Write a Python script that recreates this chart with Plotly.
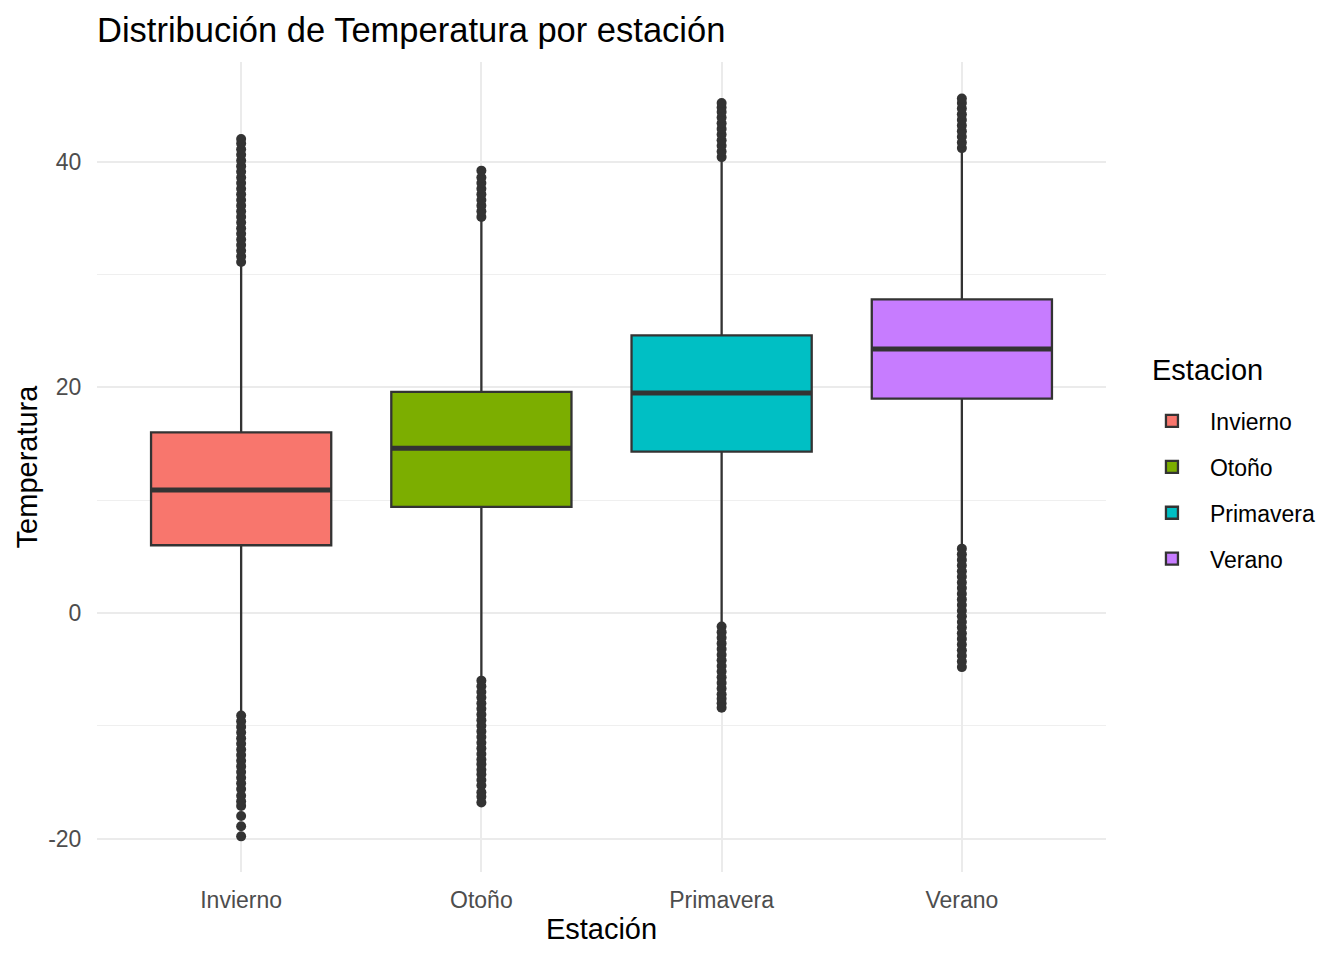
import plotly.graph_objects as go

# ---- data ----
categories = ["Invierno", "Otoño", "Primavera", "Verano"]
q1 = [6.0, 9.4, 14.3, 19.0]
medians = [10.9, 14.6, 19.5, 23.4]
q3 = [16.0, 19.6, 24.6, 27.8]
lower_whisker = [-8.9, -5.8, -1.0, 5.8]
upper_whisker = [30.9, 34.9, 40.1, 41.0]

outliers_invierno = [31.1, 31.6, 32.1, 32.6, 33.1, 33.6, 34.1, 34.6, 35.1, 35.6, 36.1,
                     36.6, 37.1, 37.6, 38.1, 38.6, 39.1, 39.6, 40.1, 40.6, 41.1, 41.6, 42.0,
                     -9.1, -9.6, -10.1, -10.6, -11.1, -11.6, -12.1, -12.6, -13.1, -13.6,
                     -14.1, -14.6, -15.1, -15.6, -16.2, -16.7, -17.1, -18.0, -18.9, -19.8]
outliers_otono = [35.1, 35.6, 36.1, 36.6, 37.1, 37.6, 38.1, 38.6, 39.2,
                  -6.0, -6.5, -7.0, -7.5, -8.0, -8.5, -9.0, -9.5, -10.0, -10.5, -11.0,
                  -11.5, -12.0, -12.5, -13.0, -13.4, -13.9, -14.3, -14.8, -15.3, -15.9,
                  -16.3, -16.8]
outliers_primavera = [40.4, 40.9, 41.4, 41.9, 42.4, 42.9, 43.4, 43.9, 44.4, 44.8, 45.2,
                      -1.2, -1.7, -2.2, -2.7, -3.2, -3.7, -4.2, -4.7, -5.2, -5.7, -6.2,
                      -6.7, -7.2, -7.6, -8.0, -8.4]
outliers_verano = [41.2, 41.7, 42.2, 42.7, 43.2, 43.7, 44.2, 44.7, 45.2, 45.6,
                   5.7, 5.2, 4.7, 4.2, 3.7, 3.2, 2.7, 2.2, 1.7, 1.2, 0.7, 0.2, -0.3,
                   -0.8, -1.3, -1.8, -2.3, -2.8, -3.3, -3.8, -4.3, -4.8]
outliers = [outliers_invierno, outliers_otono, outliers_primavera, outliers_verano]

y_ticks = [-20, 0, 20, 40]
y_tick_labels = ["-20", "0", "20", "40"]

# ---- styles ----
fills = ["#F8766D", "#7CAE00", "#00BFC4", "#C77CFF"]
DARK = "#333333"
BOX_W = 0.75
FONT = "Liberation Sans, Arial, sans-serif"

fig = go.Figure()

for i, cat in enumerate(categories):
    fig.add_trace(go.Scatter(
        x=[i] * len(outliers[i]), y=outliers[i], mode="markers",
        marker=dict(size=10, color=DARK, line=dict(width=0)),
        showlegend=False, hoverinfo="skip"))

for i, cat in enumerate(categories):
    fig.add_trace(go.Box(
        x=[i], q1=[q1[i]], median=[medians[i]], q3=[q3[i]],
        lowerfence=[lower_whisker[i]], upperfence=[upper_whisker[i]],
        name=cat, legendgroup=cat, width=BOX_W, whiskerwidth=0,
        fillcolor=fills[i], line=dict(color=DARK, width=2.3),
        boxpoints=False))
    fig.add_trace(go.Scatter(
        x=[i - BOX_W / 2, i + BOX_W / 2], y=[medians[i], medians[i]],
        mode="lines", line=dict(color=DARK, width=5),
        showlegend=False, hoverinfo="skip", legendgroup=cat))

fig.add_annotation(
    text="Estacion", xref="paper", yref="paper", x=1.0436, y=0.6198,
    xanchor="left", yanchor="middle", showarrow=False,
    font=dict(size=29, color="#000000"))

fig.update_layout(
    width=1344, height=960,
    plot_bgcolor="white", paper_bgcolor="white",
    margin=dict(l=89, r=246, t=54, b=96),
    font=dict(family=FONT, color="#000000"),
    title=dict(text="Distribución de Temperatura por estación",
               font=dict(size=34.5, color="#000000"),
               x=89 / 1344, xanchor="left", y=1 - 22 / 960, yanchor="middle",
               xref="container", yref="container"),
    showlegend=True,
    legend=dict(font=dict(size=23, color="#000000"),
                x=1.0277, xanchor="left", y=0.4716, yanchor="middle",
                itemwidth=66,
                tracegroupgap=13, bgcolor="rgba(0,0,0,0)"),
    xaxis=dict(
        range=[-0.6, 3.6], tickmode="array",
        tickvals=list(range(len(categories))), ticktext=categories,
        showgrid=True, gridcolor="#EBEBEB", gridwidth=2,
        zeroline=False, showline=False,
        ticks="outside", ticklen=7, tickcolor="rgba(0,0,0,0)",
        tickfont=dict(size=23, color="#4D4D4D"),
        title=dict(text="Estación", font=dict(size=29, color="#000000"), standoff=7)),
    yaxis=dict(
        range=[-22.96, 48.83], tickmode="array", tickvals=y_ticks, ticktext=y_tick_labels,
        showgrid=True, gridcolor="#EBEBEB", gridwidth=2,
        minor=dict(dtick=10, tick0=0, showgrid=True, gridcolor="#EFEFEF", gridwidth=1.2),
        zeroline=False, showline=False,
        ticks="outside", ticklen=10, tickcolor="rgba(0,0,0,0)",
        tickfont=dict(size=23, color="#4D4D4D"),
        title=dict(text="Temperatura", font=dict(size=29, color="#000000"), standoff=2)),
)

fig.write_html("out.html")
